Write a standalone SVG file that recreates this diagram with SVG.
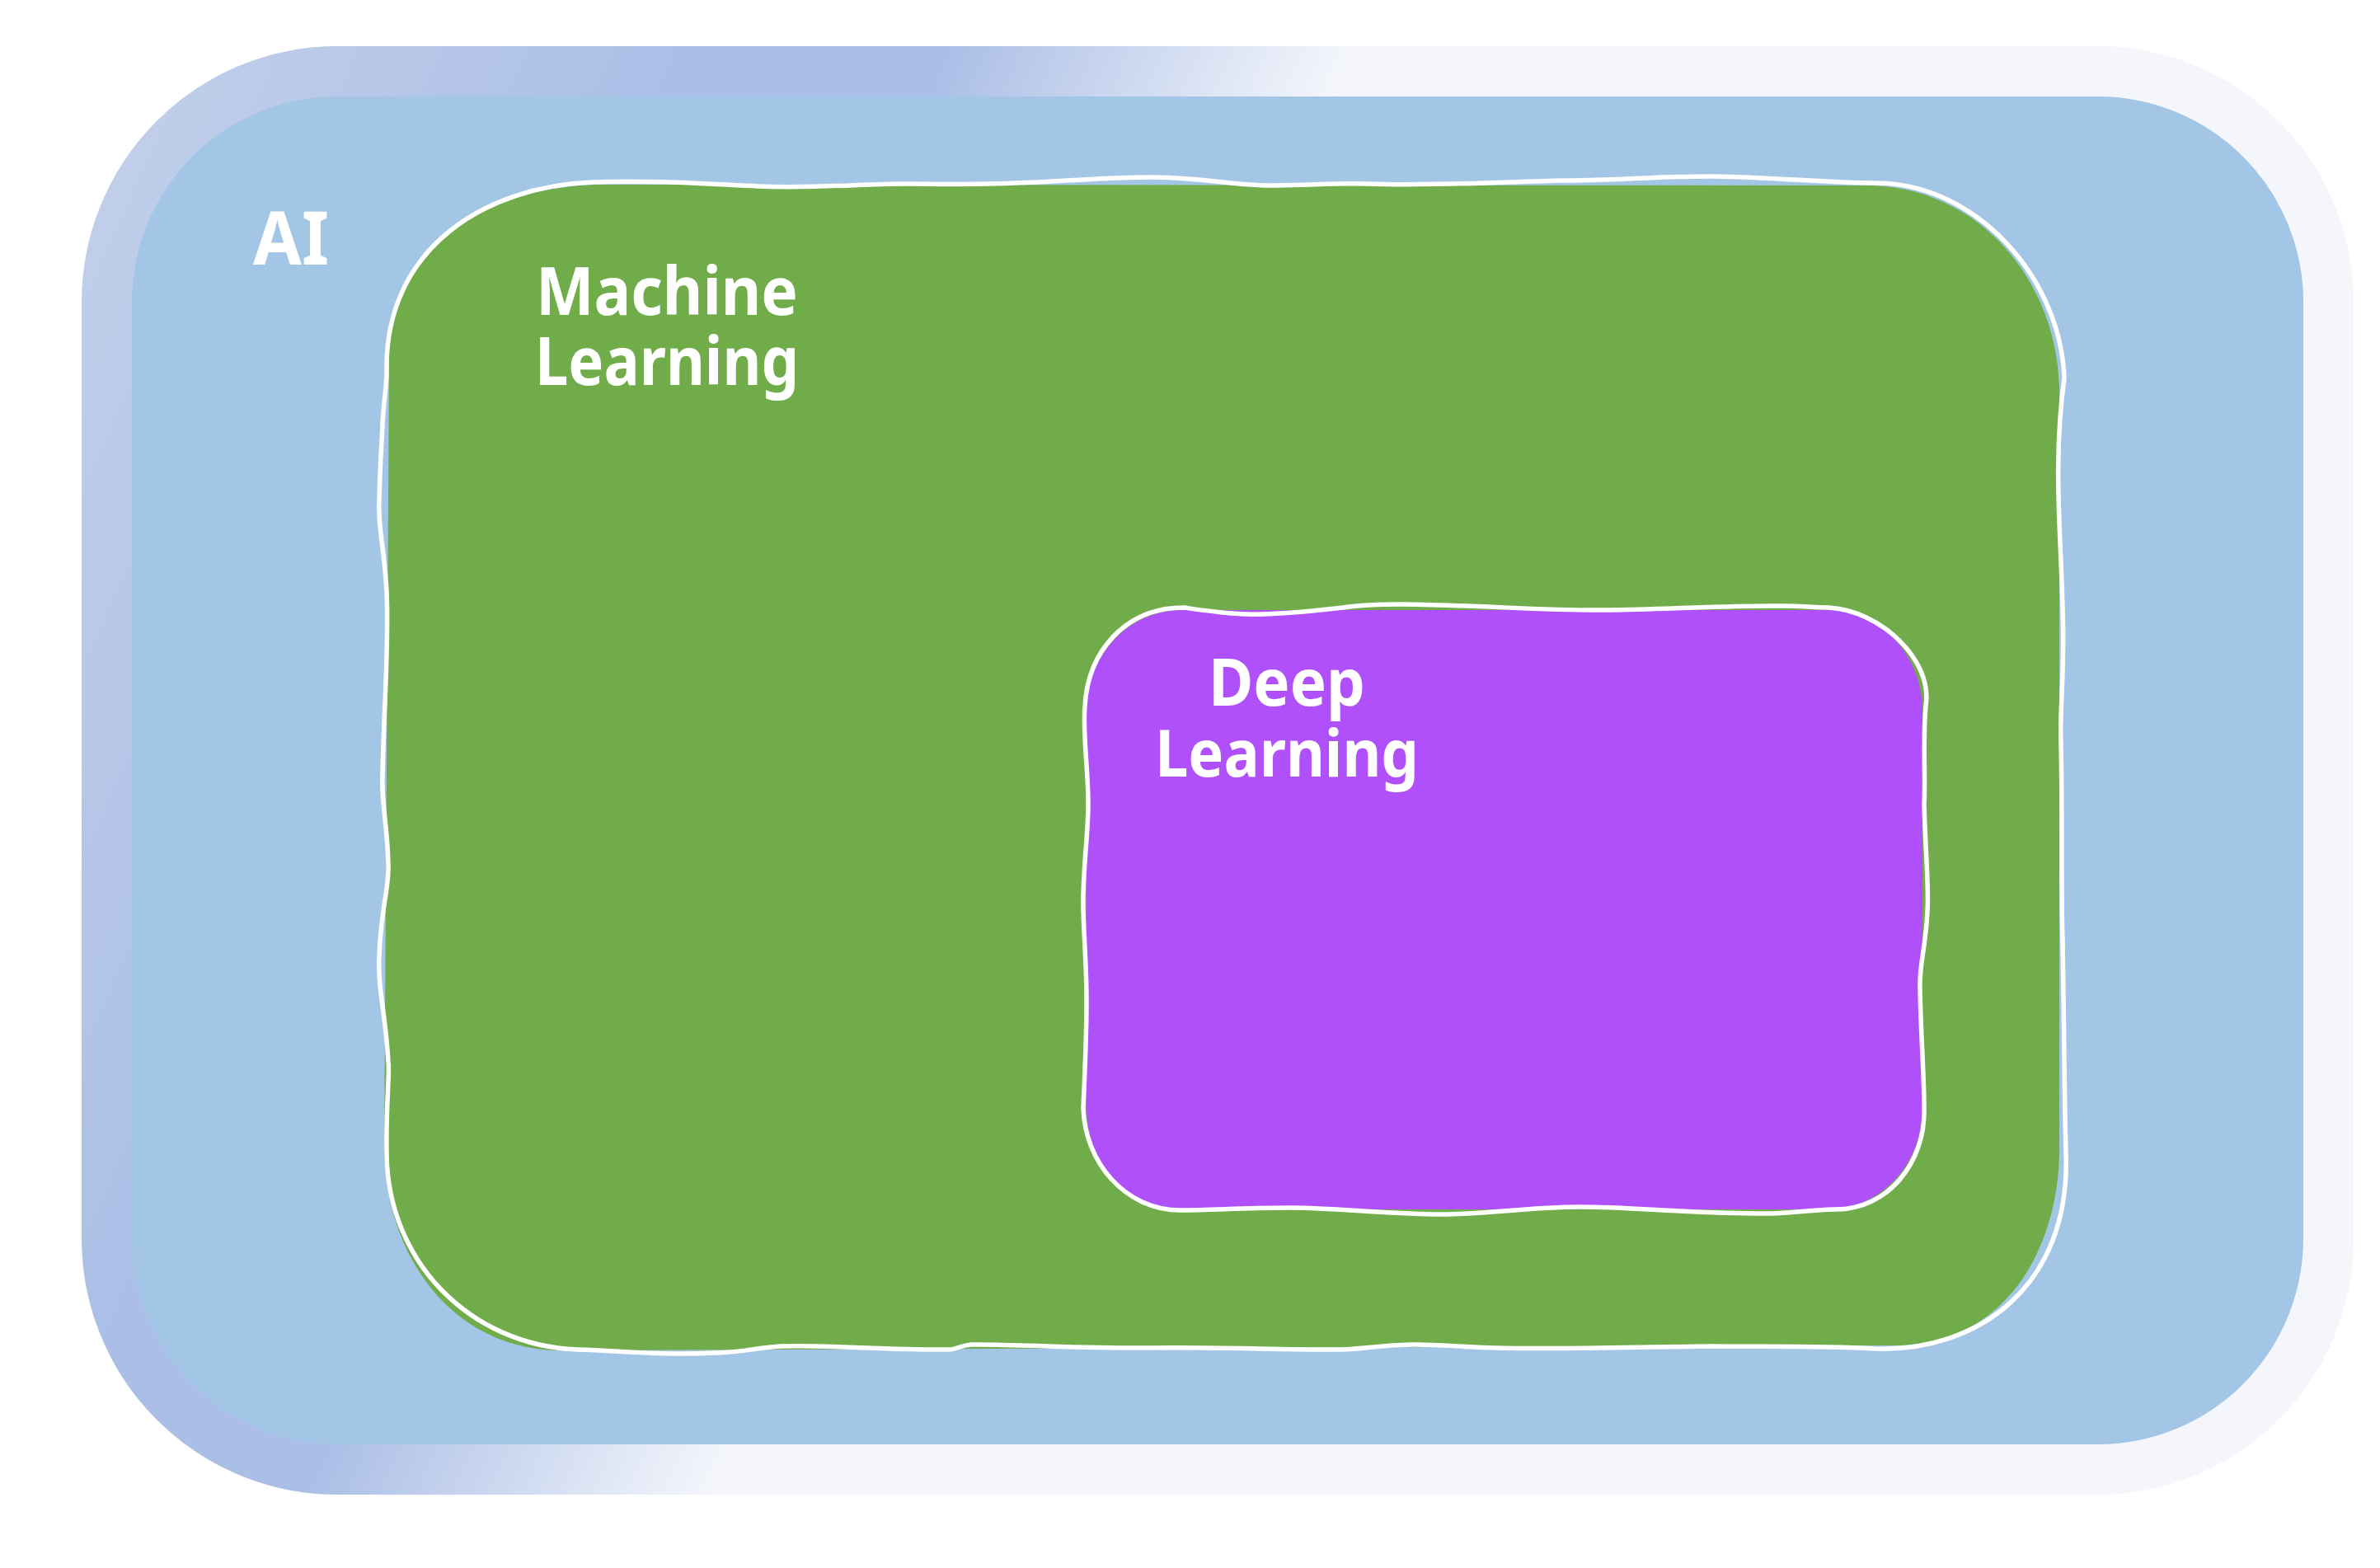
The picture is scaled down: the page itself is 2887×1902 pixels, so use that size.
<svg xmlns="http://www.w3.org/2000/svg" width="2887" height="1902" viewBox="0 0 2887 1902">
<style>
.lbl{font-family:"Noto Sans","Open Sans","Liberation Sans",sans-serif;font-weight:700;fill:#FFFFFF;text-anchor:middle}
.edge{fill:none;stroke:#FFFFFF;stroke-width:5.5;stroke-linejoin:round}
</style>
<defs>
<linearGradient id="frame" gradientUnits="userSpaceOnUse" x1="91" y1="41" x2="1462" y2="650">
<stop offset="0" stop-color="#C4D1EA"/>
<stop offset="0.47" stop-color="#AABEE6"/>
<stop offset="0.65" stop-color="#AABEE6"/>
<stop offset="0.95" stop-color="#F4F6FB"/>
<stop offset="1" stop-color="#F4F6FB"/>
</linearGradient>
</defs>
<rect width="2887" height="1902" fill="#FFFFFF"/>
<g id="node-ai">
<rect x="129.5" y="86.5" width="2695" height="1696" rx="280" ry="280" fill="#A3C6E7" stroke="url(#frame)" stroke-width="61"/>
<text class="lbl" x="353" y="321" font-size="90" textLength="92" lengthAdjust="spacingAndGlyphs">AI</text>
</g>
<g id="node-ml">
<path fill="#71AC4A" d="M 472 440 C 470 300, 590 226, 727 224 L 2270 225 C 2400 228, 2495 340, 2498 470 L 2498 1400 C 2495 1530, 2420 1632, 2303 1632 L 676 1638 C 560 1636, 472 1540, 466 1400 Z"/>
<path class="edge" d="M 469 451 C 466 300, 590 226, 718 221 C 800 218, 870 224, 920 226 C 1000 229, 1050 222, 1105 223 C 1250 226, 1330 214, 1399 215 C 1470 216, 1500 226, 1547 225 C 1600 224, 1620 222, 1657 223 C 1750 226, 1830 220, 1896 219 C 1980 218, 2030 213, 2080 214 C 2150 215, 2220 222, 2274 222 C 2400 222, 2500 340, 2504 459 C 2490 560, 2500 650, 2502 736 C 2505 820, 2498 860, 2500 902 C 2502 1000, 2500 1080, 2502 1141 C 2504 1250, 2504 1330, 2506 1399 C 2512 1560, 2400 1640, 2274 1636 C 2200 1632, 2140 1634, 2080 1633 C 1980 1634, 1900 1637, 1813 1635 C 1770 1634, 1740 1630, 1712 1631 C 1670 1632, 1650 1637, 1620 1637 C 1540 1637, 1470 1634, 1399 1635 C 1300 1636, 1230 1630, 1178 1631 C 1165 1632, 1160 1637, 1151 1637 C 1080 1638, 1000 1631, 948 1633 C 920 1634, 905 1640, 870 1641 C 800 1644, 760 1639, 700 1637 C 570 1632, 470 1530, 469 1399 C 468 1340, 473 1300, 471 1289 C 468 1230, 458 1200, 460 1160 C 462 1100, 472 1080, 471 1049 C 470 1000, 462 970, 464 939 C 466 850, 472 780, 469 718 C 466 660, 458 640, 460 608 C 461 560, 463 540, 464 515 C 465 490, 469 470, 469 451 Z"/>
<text class="lbl" x="809" y="382" font-size="80" textLength="318" lengthAdjust="spacingAndGlyphs">Machine</text>
<text class="lbl" x="809" y="467" font-size="80" textLength="320" lengthAdjust="spacingAndGlyphs">Learning</text>
</g>
<g id="node-dl">
<rect x="1318" y="740" width="1014" height="727" rx="115" ry="122" fill="#AF50FA"/>
<path class="edge" d="M 1316 856 C 1320 790, 1365 737, 1436 737 C 1480 743, 1500 746, 1531 745 C 1570 744, 1600 740, 1629 737 C 1650 734, 1670 733, 1699 733 C 1800 734, 1870 741, 1951 740 C 2030 739, 2100 734, 2162 735 C 2185 735, 2200 737, 2218 737 C 2280 740, 2345 800, 2336 856 C 2332 900, 2336 940, 2334 976 C 2336 1040, 2340 1080, 2338 1105 C 2336 1150, 2328 1170, 2329 1197 C 2330 1260, 2334 1300, 2334 1344 C 2336 1410, 2290 1468, 2225 1467 C 2190 1468, 2170 1472, 2141 1472 C 2050 1472, 1980 1464, 1916 1464 C 1850 1464, 1800 1474, 1741 1473 C 1670 1472, 1620 1465, 1566 1465 C 1510 1465, 1470 1468, 1432 1468 C 1365 1468, 1316 1410, 1314 1344 C 1316 1300, 1318 1250, 1318 1215 C 1318 1160, 1313 1120, 1314 1086 C 1315 1040, 1320 1010, 1320 976 C 1320 930, 1313 890, 1316 856 Z"/>
<text class="lbl" x="1561" y="856" font-size="79" textLength="190" lengthAdjust="spacingAndGlyphs">Deep</text>
<text class="lbl" x="1561" y="942" font-size="79" textLength="320" lengthAdjust="spacingAndGlyphs">Learning</text>
</g>
<g id="connectors"/>
</svg>
